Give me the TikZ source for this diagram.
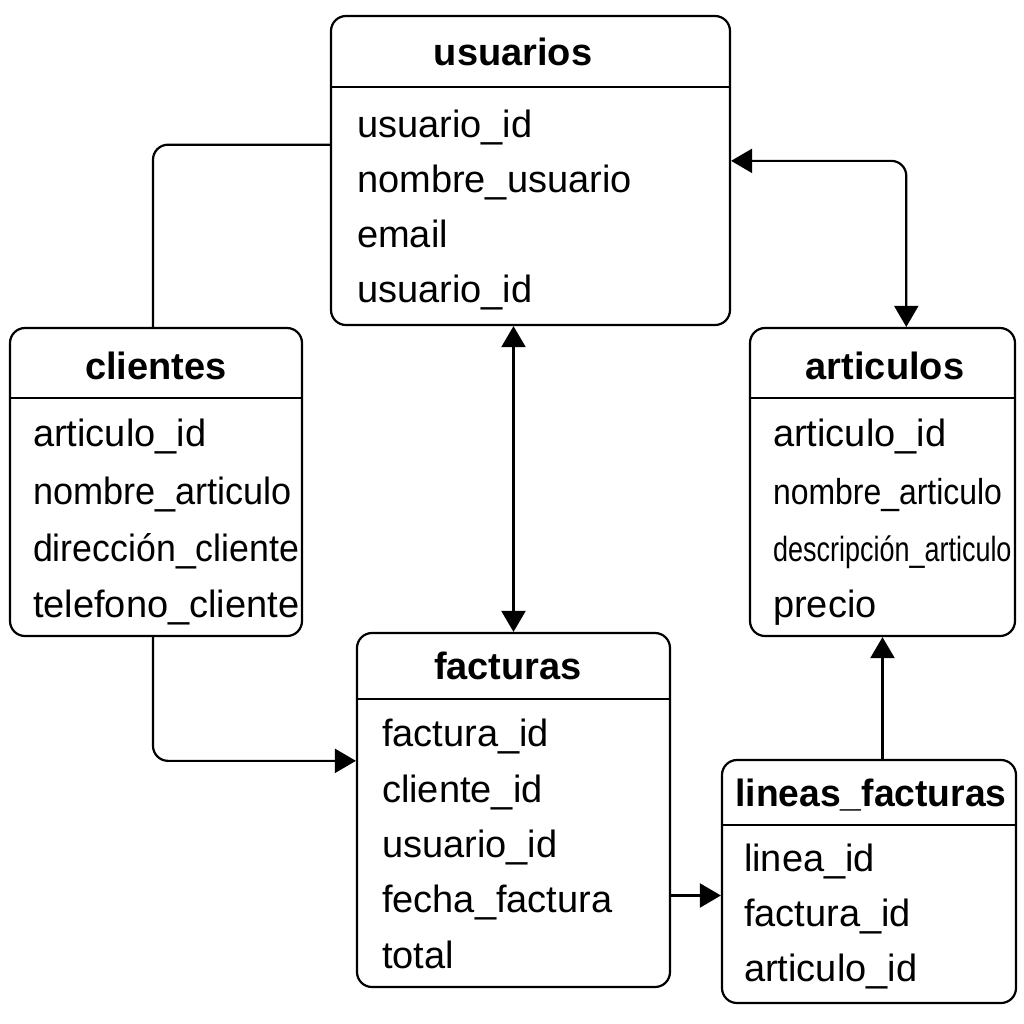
\documentclass[tikz,border=0pt]{standalone}
\usepackage{graphicx}
\usepackage{fontspec}
\setmainfont{Liberation Sans}
\usetikzlibrary{arrows.meta,calc}

\begin{document}
\begin{tikzpicture}[x=0.5pt, y=-0.5pt, line width=1.1pt,
	tabla/.style = {shape=rectangle, draw, rounded corners=7.5pt, fill=white},
	titulo/.style = {font=\fontsize{19}{19}\selectfont\bfseries, inner sep=0pt, text height=13.6pt, text depth=0pt},
	campo/.style = {font=\fontsize{19}{19}\selectfont, anchor=west, inner sep=0pt, text height=13.6pt, text depth=0pt},
	enlace/.style = {rounded corners=7.5pt},
	flecha/.style = {enlace, -{Triangle[length=10.5pt,width=12pt]}},
	dobleflecha/.style = {enlace, {Triangle[length=10.5pt,width=12pt]}-{Triangle[length=10.5pt,width=12pt]}}]
	\useasboundingbox (0,0) rectangle (1024,1024);

	% tablas
	\node[tabla, minimum width=199.5pt, minimum height=154.5pt] (usuarios) at (530.5,170.5) {};
	\node[tabla, minimum width=146pt, minimum height=154pt] (clientes) at (156,482) {};
	\node[tabla, minimum width=132.5pt, minimum height=154pt] (articulos) at (882.5,482) {};
	\node[tabla, minimum width=156.5pt, minimum height=177pt] (facturas) at (513.5,810) {};
	\node[tabla, minimum width=147pt, minimum height=121.5pt] (lineas) at (869,881.5) {};

	% cabeceras
	\draw ($(usuarios.north west)+(0,72)$) -- ($(usuarios.north east)+(0,72)$);
	\draw ($(clientes.north west)+(0,71)$) -- ($(clientes.north east)+(0,71)$);
	\draw ($(articulos.north west)+(0,71)$) -- ($(articulos.north east)+(0,71)$);
	\draw ($(facturas.north west)+(0,67)$) -- ($(facturas.north east)+(0,67)$);
	\draw ($(lineas.north west)+(0,66)$) -- ($(lineas.north east)+(0,66)$);

	\node[titulo] (usuarios-titulo) at (513,52) {usuarios};
	\node[titulo] (clientes-titulo) at (156,366) {clientes};
	\node[titulo] (articulos-titulo) at (885,366) {articulos};
	\node[titulo] (facturas-titulo) at (508,666) {facturas};
	\node[titulo] (lineas-titulo) at (871,793) {\scalebox{0.98}[1]{lineas\_facturas}};

	% campos
	\foreach \y/\t in {124/usuario\_id, 179/nombre\_usuario, 234/email, 289/usuario\_id}
		\node[campo] (usuarios-\y) at (356,\y) {\t};
	\foreach \y/\t in {433/articulo\_id, 491/{\scalebox{0.95}[1]{nombre\_articulo}}, 548/{\scalebox{0.94}[1]{dirección\_cliente}}, 604/telefono\_cliente}
		\node[campo] (clientes-\y) at (32,\y) {\t};
	\foreach \y/\t in {433/articulo\_id, 491/{\scalebox{0.84}[0.95]{nombre\_articulo}}, 548/{\scalebox{0.71}[0.92]{descripción\_articulo}}, 604/precio}
		\node[campo] (articulos-\y) at (772,\y) {\t};
	\foreach \y/\t in {733/factura\_id, 789/cliente\_id, 844/usuario\_id, 899/fecha\_factura, 955/total}
		\node[campo] (facturas-\y) at (381,\y) {\t};
	\foreach \y/\t in {858/linea\_id, 913/factura\_id, 968/articulo\_id}
		\node[campo] (lineas-\y) at (743,\y) {\t};

	% relaciones
	\draw[enlace] ([xshift=-1.5pt]clientes.north) |- ($(usuarios.north west)!0.417!(usuarios.south west)$);
	\draw[dobleflecha] ($(usuarios.north east)!0.469!(usuarios.south east)$) -| ($(articulos.north west)!0.589!(articulos.north east)$);
	\draw[dobleflecha] (facturas.north |- usuarios.south) -- (facturas.north);
	\draw[flecha] ([xshift=-1.5pt]clientes.south) |- ($(facturas.north west)!0.362!(facturas.south west)$);
	\coordinate (facturas-salida) at ($(facturas.north east)!0.74!(facturas.south east)$);
	\draw[flecha] (facturas-salida) -- (facturas-salida -| lineas.west);
	\draw[flecha] (articulos.south |- lineas.north) -- (articulos.south);
\end{tikzpicture}
\end{document}
